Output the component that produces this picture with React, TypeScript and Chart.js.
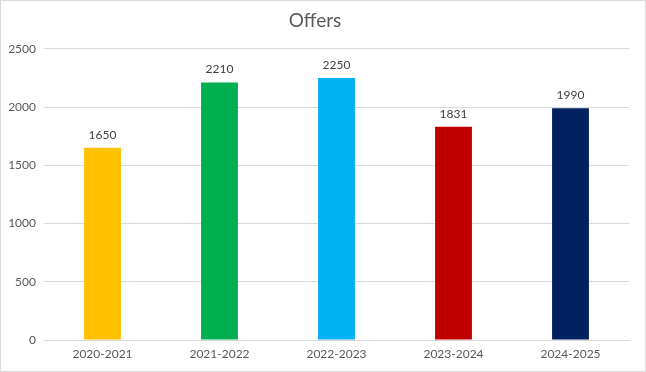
import React, { useEffect, useRef } from "react";
import { Chart, registerables } from "chart.js";

Chart.register(...registerables);

const categories = ["2020-2021", "2021-2022", "2022-2023", "2023-2024", "2024-2025"];
const offers = [1650, 2210, 2250, 1831, 1990];
const barColors = ["#FFC000", "#00B050", "#00B0F0", "#C00000", "#002060"];
const chartTitle = "Offers";
const yMax = 2500;
const yStep = 500;

const FONT = "Lato, 'Open Sans', 'Liberation Sans', sans-serif";

const valueLabels = {
  id: "valueLabels",
  afterDatasetsDraw(chart: any) {
    const { ctx } = chart;
    const meta = chart.getDatasetMeta(0);
    const data = chart.data.datasets[0].data as number[];
    ctx.save();
    ctx.font = `12px ${FONT}`;
    ctx.fillStyle = "#404040";
    ctx.textAlign = "center";
    ctx.textBaseline = "bottom";
    meta.data.forEach((bar: any, i: number) => {
      ctx.fillText(String(data[i]), bar.x, bar.y - 7);
    });
    ctx.restore();
  },
};

export default function App() {
  const ref = useRef<HTMLCanvasElement>(null);
  useEffect(() => {
    document.body.style.margin = "0";
    const chart = new Chart(ref.current!, {
      type: "bar",
      data: {
        labels: categories,
        datasets: [
          {
            data: offers,
            backgroundColor: barColors,
            borderWidth: 0,
            categoryPercentage: 1,
            barPercentage: 0.315,
          },
        ],
      },
      plugins: [valueLabels],
      options: {
        animation: false,
        responsive: false,
        layout: { padding: { left: 0, right: 16, top: 0, bottom: 0 } },
        plugins: {
          legend: { display: false },
          tooltip: { enabled: false },
          title: {
            display: true,
            text: chartTitle,
            color: "#595959",
            font: { family: FONT, size: 19, weight: "normal" },
            padding: { top: 8, bottom: 17 },
          },
        },
        scales: {
          x: {
            grid: { display: false, drawTicks: false },
            border: { display: true, color: "#d9d9d9" },
            ticks: { color: "#595959", font: { family: FONT, size: 12 }, padding: 7 },
            afterFit(scale: any) {
              scale.height = 31;
            },
          },
          y: {
            min: 0,
            max: yMax,
            grid: { color: "#d9d9d9", drawTicks: false },
            border: { display: false },
            ticks: {
              stepSize: yStep,
              color: "#595959",
              font: { family: FONT, size: 12 },
              padding: 8,
              callback: (v: any) => String(v),
            },
            afterFit(scale: any) {
              scale.width = 43;
            },
          },
        },
      },
    } as any);
    return () => chart.destroy();
  }, []);
  return (
    <div
      style={{
        width: 646,
        height: 372,
        border: "1px solid #d9d9d9",
        boxSizing: "border-box",
        background: "#fff",
      }}
    >
      <canvas ref={ref} width={644} height={370} style={{ display: "block" }} />
    </div>
  );
}
